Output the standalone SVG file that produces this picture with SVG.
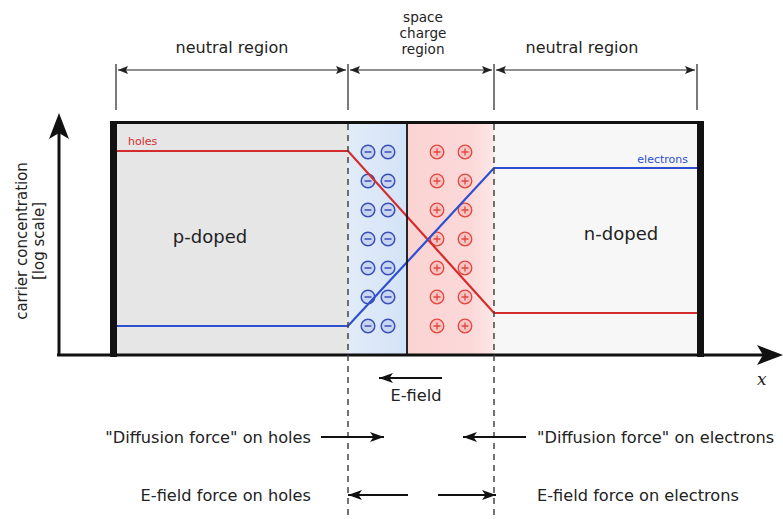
<svg xmlns="http://www.w3.org/2000/svg" width="783" height="519" viewBox="0 0 783 519">
<defs>
<style>
text{font-family:"DejaVu Sans","Liberation Sans",sans-serif;fill:#222}
.lbl{font-size:16.2px}
.top{font-size:16px}
.scr{font-size:13.6px}
.ax{font-size:15px}
.big{font-size:18px}
.sm{font-size:11px}
.dim{stroke:#222;stroke-width:1.2;fill:none}
.dash{stroke:#444;stroke-width:1.5;stroke-dasharray:6,5;fill:none}
.farrow{stroke:#111;stroke-width:2.2;fill:none;marker-end:url(#ah)}
.neg{fill:#c9d6f2;stroke:#3a4fb8;stroke-width:1.5}
.negs{stroke:#3a4fb8;stroke-width:1.5}
.pos{fill:#f9c4c4;stroke:#e0483f;stroke-width:1.3}
.poss{stroke:#e0483f;stroke-width:1.3}
</style>
<marker id="ah" markerUnits="userSpaceOnUse" markerWidth="16" markerHeight="12" refX="14" refY="5" orient="auto">
<path d="M0,0 L14,5 L0,10 L3.5,5 Z" fill="#111"/>
</marker>
<marker id="dh" markerUnits="userSpaceOnUse" markerWidth="12" markerHeight="10" refX="10" refY="4" orient="auto-start-reverse">
<path d="M0,0 L10,4 L0,8 L2,4 Z" fill="#222"/>
</marker>
<linearGradient id="gb" x1="0" x2="1" y1="0" y2="0">
<stop offset="0" stop-color="#e2ecf8"/><stop offset="1" stop-color="#d3e3f7"/>
</linearGradient>
<linearGradient id="gr" x1="0" x2="1" y1="0" y2="0">
<stop offset="0" stop-color="#fbd3d3"/><stop offset="0.75" stop-color="#fcd9d9"/><stop offset="1" stop-color="#fde8e8"/>
</linearGradient>
</defs>

<g id="regions">
<rect x="117" y="124" width="231" height="230" fill="#e6e6e6"/>
<rect x="348" y="124" width="59" height="230" fill="url(#gb)"/>
<rect x="407" y="124" width="87" height="230" fill="url(#gr)"/>
<rect x="494" y="124" width="203" height="230" fill="#f7f7f7"/>
</g>

<g id="charges">
<g id="neg-charges">
<g transform="translate(368,152)"><circle r="6.8" class="neg"/><line x1="-3.5" x2="3.5" class="negs"/></g>
<g transform="translate(388,152)"><circle r="6.8" class="neg"/><line x1="-3.5" x2="3.5" class="negs"/></g>
<g transform="translate(368,181)"><circle r="6.8" class="neg"/><line x1="-3.5" x2="3.5" class="negs"/></g>
<g transform="translate(388,181)"><circle r="6.8" class="neg"/><line x1="-3.5" x2="3.5" class="negs"/></g>
<g transform="translate(368,210)"><circle r="6.8" class="neg"/><line x1="-3.5" x2="3.5" class="negs"/></g>
<g transform="translate(388,210)"><circle r="6.8" class="neg"/><line x1="-3.5" x2="3.5" class="negs"/></g>
<g transform="translate(368,239)"><circle r="6.8" class="neg"/><line x1="-3.5" x2="3.5" class="negs"/></g>
<g transform="translate(388,239)"><circle r="6.8" class="neg"/><line x1="-3.5" x2="3.5" class="negs"/></g>
<g transform="translate(368,268)"><circle r="6.8" class="neg"/><line x1="-3.5" x2="3.5" class="negs"/></g>
<g transform="translate(388,268)"><circle r="6.8" class="neg"/><line x1="-3.5" x2="3.5" class="negs"/></g>
<g transform="translate(368,297)"><circle r="6.8" class="neg"/><line x1="-3.5" x2="3.5" class="negs"/></g>
<g transform="translate(388,297)"><circle r="6.8" class="neg"/><line x1="-3.5" x2="3.5" class="negs"/></g>
<g transform="translate(368,326)"><circle r="6.8" class="neg"/><line x1="-3.5" x2="3.5" class="negs"/></g>
<g transform="translate(388,326)"><circle r="6.8" class="neg"/><line x1="-3.5" x2="3.5" class="negs"/></g>
</g>
<g id="pos-charges">
<g transform="translate(437,152)"><circle r="6.8" class="pos"/><path d="M-3.5,0H3.5M0,-3.5V3.5" class="poss"/></g>
<g transform="translate(465,152)"><circle r="6.8" class="pos"/><path d="M-3.5,0H3.5M0,-3.5V3.5" class="poss"/></g>
<g transform="translate(437,181)"><circle r="6.8" class="pos"/><path d="M-3.5,0H3.5M0,-3.5V3.5" class="poss"/></g>
<g transform="translate(465,181)"><circle r="6.8" class="pos"/><path d="M-3.5,0H3.5M0,-3.5V3.5" class="poss"/></g>
<g transform="translate(437,210)"><circle r="6.8" class="pos"/><path d="M-3.5,0H3.5M0,-3.5V3.5" class="poss"/></g>
<g transform="translate(465,210)"><circle r="6.8" class="pos"/><path d="M-3.5,0H3.5M0,-3.5V3.5" class="poss"/></g>
<g transform="translate(437,239)"><circle r="6.8" class="pos"/><path d="M-3.5,0H3.5M0,-3.5V3.5" class="poss"/></g>
<g transform="translate(465,239)"><circle r="6.8" class="pos"/><path d="M-3.5,0H3.5M0,-3.5V3.5" class="poss"/></g>
<g transform="translate(437,268)"><circle r="6.8" class="pos"/><path d="M-3.5,0H3.5M0,-3.5V3.5" class="poss"/></g>
<g transform="translate(465,268)"><circle r="6.8" class="pos"/><path d="M-3.5,0H3.5M0,-3.5V3.5" class="poss"/></g>
<g transform="translate(437,297)"><circle r="6.8" class="pos"/><path d="M-3.5,0H3.5M0,-3.5V3.5" class="poss"/></g>
<g transform="translate(465,297)"><circle r="6.8" class="pos"/><path d="M-3.5,0H3.5M0,-3.5V3.5" class="poss"/></g>
<g transform="translate(437,326)"><circle r="6.8" class="pos"/><path d="M-3.5,0H3.5M0,-3.5V3.5" class="poss"/></g>
<g transform="translate(465,326)"><circle r="6.8" class="pos"/><path d="M-3.5,0H3.5M0,-3.5V3.5" class="poss"/></g>
</g>
</g>

<g id="curves">
<polyline points="117,151 348,151 494,313 697,313" fill="none" stroke="#d42c2c" stroke-width="2.2"/>
<polyline points="117,326 348,326 494,168 697,168" fill="none" stroke="#2d4fd0" stroke-width="2.2"/>
</g>

<g id="box">
<line x1="407" y1="124" x2="407" y2="354" stroke="#111" stroke-width="1.8"/>
<line x1="110" y1="122.5" x2="704" y2="122.5" stroke="#111" stroke-width="3"/>
<rect x="110" y="121" width="7" height="236" fill="#111"/>
<rect x="697" y="121" width="7" height="236" fill="#111"/>
</g>

<g id="axes">
<line x1="57" y1="355" x2="768" y2="355" stroke="#111" stroke-width="3"/>
<path d="M783,355 L757,345 L763,355 L757,365 Z" fill="#111"/>
<line x1="59" y1="356" x2="59" y2="130" stroke="#111" stroke-width="3"/>
<path d="M59,113 L69,139 L59,133 L49,139 Z" fill="#111"/>
</g>

<g id="connectors">
<line x1="348" y1="124" x2="348" y2="519" class="dash"/>
<line x1="494" y1="124" x2="494" y2="519" class="dash"/>
<line x1="116" y1="64" x2="116" y2="110" class="dim"/>
<line x1="348" y1="64" x2="348" y2="110" class="dim"/>
<line x1="494" y1="64" x2="494" y2="110" class="dim"/>
<line x1="697" y1="64" x2="697" y2="110" class="dim"/>
<line x1="118" y1="70" x2="346" y2="70" class="dim" marker-start="url(#dh)" marker-end="url(#dh)"/>
<line x1="350" y1="70" x2="492" y2="70" class="dim" marker-start="url(#dh)" marker-end="url(#dh)"/>
<line x1="496" y1="70" x2="695" y2="70" class="dim" marker-start="url(#dh)" marker-end="url(#dh)"/>
<line x1="442" y1="378" x2="379" y2="378" class="farrow"/>
<line x1="321" y1="437" x2="384" y2="437" class="farrow"/>
<line x1="526" y1="437" x2="463" y2="437" class="farrow"/>
<line x1="408" y1="495" x2="348" y2="495" class="farrow"/>
<line x1="438" y1="495" x2="496" y2="495" class="farrow"/>
</g>

<g id="labels">
<text x="232" y="52.5" text-anchor="middle" class="top">neutral region</text>
<text text-anchor="middle" class="scr"><tspan x="423" y="21.5">space</tspan><tspan x="423" y="37.5">charge</tspan><tspan x="423" y="53.5">region</tspan></text>
<text x="582" y="52.5" text-anchor="middle" class="top">neutral region</text>
<text x="128" y="145" class="sm" style="fill:#d42c2c">holes</text>
<text x="688" y="163" text-anchor="end" class="sm" style="fill:#2d4fd0">electrons</text>
<text x="210" y="243" text-anchor="middle" class="big">p-doped</text>
<text x="621" y="240" text-anchor="middle" class="big">n-doped</text>
<text transform="translate(27,241) rotate(-90)" text-anchor="middle" class="ax">carrier concentration</text>
<text transform="translate(44,241) rotate(-90)" text-anchor="middle" class="ax">[log scale]</text>
<text x="757" y="385" style="font-family:'DejaVu Serif','Liberation Serif',serif;font-style:italic;font-size:17px">x</text>
<text x="416" y="401" text-anchor="middle" class="lbl">E-field</text>
<text x="311" y="443" text-anchor="end" class="lbl">"Diffusion force" on holes</text>
<text x="537" y="443" class="lbl">"Diffusion force" on electrons</text>
<text x="311" y="501" text-anchor="end" class="lbl">E-field force on holes</text>
<text x="537" y="501" class="lbl">E-field force on electrons</text>
</g>
</svg>
